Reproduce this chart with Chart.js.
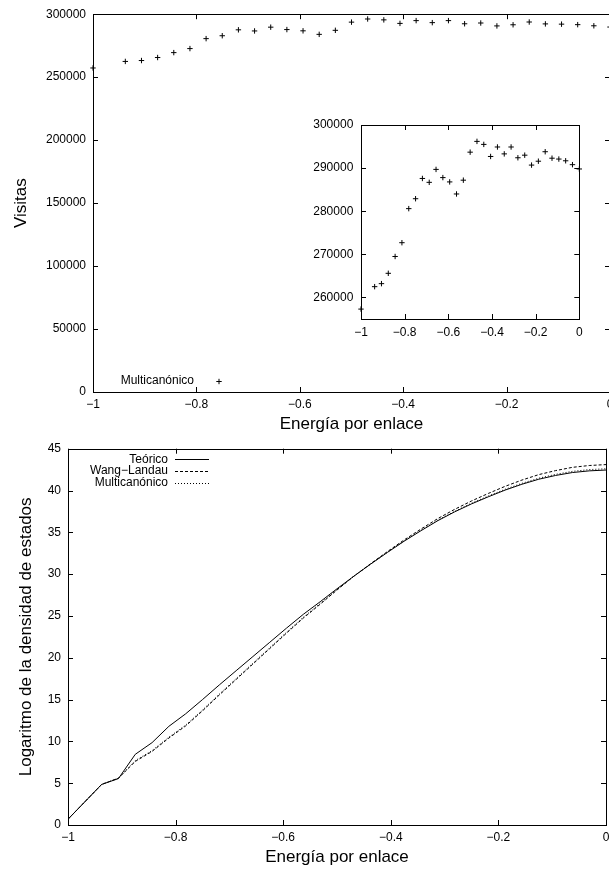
<!DOCTYPE html>
<html><head><meta charset="utf-8">
<script src="https://cdn.jsdelivr.net/npm/chart.js@4.4.1/dist/chart.umd.min.js"></script>
<style>
html,body{margin:0;padding:0;width:609px;height:869px;overflow:hidden;background:#fff;}
.box{position:absolute;}
canvas{display:block;}
</style></head><body>
<div class="box" style="left:0;top:0;"><canvas id="top" width="620" height="440"></canvas></div>
<div class="box" style="left:280px;top:110px;"><canvas id="inset" width="310" height="235"></canvas></div>
<div class="box" style="left:0;top:430px;"><canvas id="bottom" width="620" height="439"></canvas></div>
<script>
// ---- data ----
const energies = [-1, -0.9375, -0.90625, -0.875, -0.84375, -0.8125, -0.78125, -0.75, -0.71875, -0.6875,
  -0.65625, -0.625, -0.59375, -0.5625, -0.53125, -0.5, -0.46875, -0.4375, -0.40625, -0.375,
  -0.34375, -0.3125, -0.28125, -0.25, -0.21875, -0.1875, -0.15625, -0.125, -0.09375, -0.0625, -0.03125, 0];
const visits = [257300, 262500, 263200, 265600, 269500, 272700, 280600, 282900, 287600, 286700,
  289700, 287800, 286800, 284000, 287200, 293700, 296200, 295500, 292700, 294900,
  293300, 294900, 292400, 293000, 290700, 291600, 293800, 292300, 292100, 291700, 290800, 289800];
const teorico = [0.69, 4.85, 5.55, 8.45, 9.85, 11.8, 13.3, 15.0, 16.75, 18.45,
  20.15, 21.85, 23.55, 25.2, 26.7, 28.25, 29.75, 31.2, 32.6, 33.95,
  35.2, 36.4, 37.45, 38.4, 39.25, 40.05, 40.75, 41.35, 41.8, 42.15, 42.35, 42.45];
const wangLandau = [0.69, 4.85, 5.6, 7.6, 8.8, 10.4, 11.85, 13.65, 15.55, 17.4,
  19.25, 21.1, 22.95, 24.75, 26.4, 28.1, 29.75, 31.25, 32.7, 34.1,
  35.4, 36.65, 37.75, 38.75, 39.65, 40.5, 41.25, 41.9, 42.38, 42.77, 42.99, 43.1];
const multicanonico = [0.69, 4.85, 5.6, 7.7, 8.9, 10.5, 11.95, 13.75, 15.65, 17.5,
  19.35, 21.2, 23.05, 24.85, 26.5, 28.15, 29.75, 31.2, 32.62, 33.98,
  35.25, 36.46, 37.52, 38.48, 39.34, 40.15, 40.86, 41.47, 41.93, 42.29, 42.5, 42.6];

const xTickValues = [-1, -0.8, -0.6, -0.4, -0.2, 0];
const xTickLabels = ['\u22121', '\u22120.8', '\u22120.6', '\u22120.4', '\u22120.2', '0'];
const yTopTickValues = [0, 50000, 100000, 150000, 200000, 250000, 300000];
const yTopTickLabels = ['0', '50000', '100000', '150000', '200000', '250000', '300000'];
const yInsetTickValues = [260000, 270000, 280000, 290000, 300000];
const yInsetTickLabels = ['260000', '270000', '280000', '290000', '300000'];
const yBottomTickValues = [0, 5, 10, 15, 20, 25, 30, 35, 40, 45];
const yBottomTickLabels = ['0', '5', '10', '15', '20', '25', '30', '35', '40', '45'];

const FONT = '"Liberation Sans", Arial, Helvetica, sans-serif';
Chart.defaults.font.family = FONT;
Chart.defaults.font.size = 12;
Chart.defaults.color = '#000';

// ---- plugins ----
const frameTicks = {
  id: 'frameTicks',
  afterDraw(chart, args, o) {
    const {ctx, chartArea: a, scales: {x, y}} = chart;
    const L = o.len || 5;
    ctx.save();
    ctx.strokeStyle = '#000';
    ctx.lineWidth = 1;
    ctx.setLineDash([]);
    ctx.beginPath();
    x.ticks.forEach(t => {
      const px = Math.round(x.getPixelForValue(t.value)) + 0.5;
      ctx.moveTo(px, a.bottom); ctx.lineTo(px, a.bottom - L);
      ctx.moveTo(px, a.top); ctx.lineTo(px, a.top + L);
    });
    y.ticks.forEach(t => {
      const py = Math.round(y.getPixelForValue(t.value)) + 0.5;
      ctx.moveTo(a.left, py); ctx.lineTo(a.left + L, py);
      ctx.moveTo(a.right, py); ctx.lineTo(a.right - L, py);
    });
    ctx.stroke();
    ctx.strokeRect(Math.round(a.left) + 0.5, Math.round(a.top) + 0.5,
      Math.round(a.right - a.left), Math.round(a.bottom - a.top));
    ctx.restore();
  }
};

function drawCross(ctx, x, y, r) {
  ctx.beginPath();
  ctx.moveTo(x - r, y); ctx.lineTo(x + r, y);
  ctx.moveTo(x, y - r); ctx.lineTo(x, y + r);
  ctx.stroke();
}

const keyLegend = {
  id: 'keyLegend',
  afterDraw(chart, args, o) {
    if (!o || o.textRight === undefined) return;
    const ctx = chart.ctx;
    ctx.save();
    ctx.font = '12px ' + FONT;
    ctx.fillStyle = '#000';
    ctx.strokeStyle = '#000';
    ctx.lineWidth = 1;
    ctx.textAlign = 'right';
    ctx.textBaseline = 'middle';
    chart.data.datasets.forEach((ds, i) => {
      const ty = o.y + i * (o.dy || 0);
      ctx.fillText(ds.label, o.textRight, ty);
      if (o.kind === 'point') {
        ctx.setLineDash([]);
        drawCross(ctx, o.sampleX, Math.round(ty) + 0.5, ds.pointRadius);
      } else {
        ctx.setLineDash(ds.borderDash || []);
        ctx.beginPath();
        ctx.moveTo(o.x0, Math.round(ty) + 0.5);
        ctx.lineTo(o.x1, Math.round(ty) + 0.5);
        ctx.stroke();
      }
    });
    ctx.restore();
  }
};

function fixedTicks(values) {
  return s => { s.ticks = values.map(v => ({value: v})); };
}
function labelFrom(values, labels) {
  return v => { const i = values.indexOf(v); return i >= 0 ? labels[i] : ''; };
}
const noGrid = {display: false, drawTicks: false};

// ---- top chart ----
new Chart(document.getElementById('top'), {
  type: 'scatter',
  data: {datasets: [{
    label: 'Multicanónico',
    data: energies.map((e, i) => ({x: e, y: visits[i]})),
    pointStyle: 'cross', pointRadius: 2.7, pointBorderWidth: 1,
    borderColor: '#000', backgroundColor: '#000', clip: false
  }]},
  options: {
    responsive: false, animation: false, events: [],
    layout: {padding: {left: 0, top: 9, right: 10, bottom: 0}},
    plugins: {
      legend: {display: false}, tooltip: {enabled: false},
      frameTicks: {len: 5},
      keyLegend: {textRight: 194, y: 381, kind: 'point', sampleX: 219}
    },
    scales: {
      x: {
        type: 'linear', min: -1, max: 0,
        afterBuildTicks: fixedTicks(xTickValues),
        ticks: {callback: labelFrom(xTickValues, xTickLabels), padding: 5, maxRotation: 0, autoSkip: false},
        grid: noGrid, border: {display: false},
        title: {display: true, text: 'Energía por enlace', font: {size: 17}, padding: {top: 0, bottom: 5}},
        afterFit: s => { s.height = 48; }
      },
      y: {
        type: 'linear', min: 0, max: 300000,
        afterBuildTicks: fixedTicks(yTopTickValues),
        ticks: {callback: labelFrom(yTopTickValues, yTopTickLabels), padding: 7, autoSkip: false},
        grid: noGrid, border: {display: false},
        title: {display: true, text: 'Visitas', font: {size: 17}, padding: {top: 11, bottom: 0}},
        afterFit: s => { s.width = 93; }
      }
    }
  },
  plugins: [frameTicks, keyLegend]
});

// ---- inset ----
new Chart(document.getElementById('inset'), {
  type: 'scatter',
  data: {datasets: [{
    label: 'Multicanónico',
    data: energies.map((e, i) => ({x: e, y: visits[i]})),
    pointStyle: 'cross', pointRadius: 2.7, pointBorderWidth: 1,
    borderColor: '#000', backgroundColor: '#000', clip: false
  }]},
  options: {
    responsive: false, animation: false, events: [],
    layout: {padding: {left: 0, top: 15, right: 10.7, bottom: 0}},
    plugins: {legend: {display: false}, tooltip: {enabled: false}, frameTicks: {len: 5}},
    scales: {
      x: {
        type: 'linear', min: -1, max: 0,
        afterBuildTicks: fixedTicks(xTickValues),
        ticks: {callback: labelFrom(xTickValues, xTickLabels), padding: 6.5, maxRotation: 0, autoSkip: false},
        grid: noGrid, border: {display: false},
        afterFit: s => { s.height = 26; }
      },
      y: {
        type: 'linear', min: 255000, max: 300000,
        afterBuildTicks: fixedTicks(yInsetTickValues),
        ticks: {callback: labelFrom(yInsetTickValues, yInsetTickLabels), padding: 7.7, autoSkip: false},
        grid: noGrid, border: {display: false},
        afterFit: s => { s.width = 81; }
      }
    }
  },
  plugins: [frameTicks]
});

// ---- bottom chart ----
function line(label, values, dash) {
  return {
    label, data: energies.map((e, i) => ({x: e, y: values[i]})),
    showLine: true, pointRadius: 0, borderWidth: 1, borderColor: '#000',
    borderDash: dash, tension: 0, fill: false
  };
}
new Chart(document.getElementById('bottom'), {
  type: 'scatter',
  data: {datasets: [
    line('Teórico', teorico, []),
    line('Wang\u2212Landau', wangLandau, [3, 2]),
    line('Multicanónico', multicanonico, [1, 2])
  ]},
  options: {
    responsive: false, animation: false, events: [],
    layout: {padding: {left: 0, top: 18.7, right: 14, bottom: 0}},
    plugins: {
      legend: {display: false}, tooltip: {enabled: false},
      frameTicks: {len: 5},
      keyLegend: {textRight: 168, y: 29.3, dy: 11.6, kind: 'line', x0: 175, x1: 209}
    },
    scales: {
      x: {
        type: 'linear', min: -1, max: 0,
        afterBuildTicks: fixedTicks(xTickValues),
        ticks: {callback: labelFrom(xTickValues, xTickLabels), padding: 5, maxRotation: 0, autoSkip: false},
        grid: noGrid, border: {display: false},
        title: {display: true, text: 'Energía por enlace', font: {size: 17}, padding: {top: 0, bottom: 1}},
        afterFit: s => { s.height = 44; }
      },
      y: {
        type: 'linear', min: 0, max: 45,
        afterBuildTicks: fixedTicks(yBottomTickValues),
        ticks: {callback: labelFrom(yBottomTickValues, yBottomTickLabels), padding: 7, autoSkip: false},
        grid: noGrid, border: {display: false},
        title: {display: true, text: 'Logaritmo de la densidad de estados', font: {size: 17}, padding: {top: 16.5, bottom: 0}},
        afterFit: s => { s.width = 68; }
      }
    }
  },
  plugins: [frameTicks, keyLegend]
});
</script>
</body></html>
